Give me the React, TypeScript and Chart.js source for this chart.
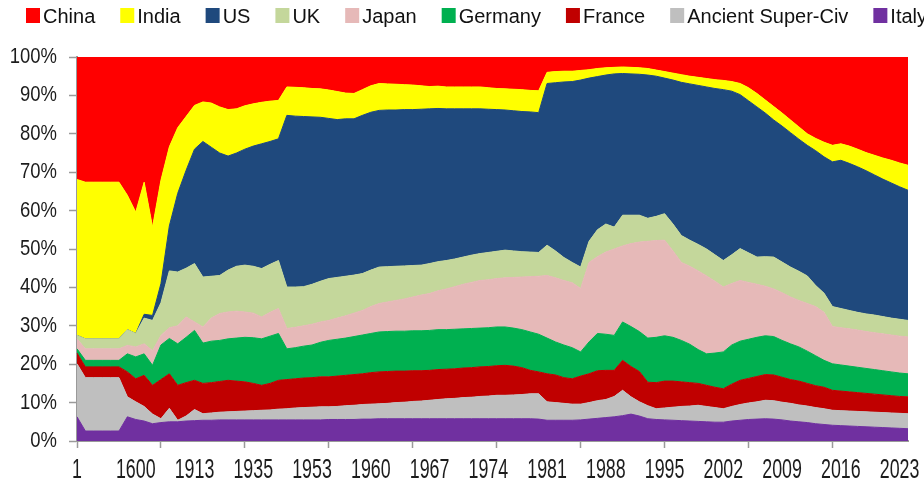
import React, { useEffect, useRef } from 'react';
import { Chart, registerables } from 'chart.js';

Chart.register(...registerables);

const years = [
  '1', '1000', '1100', '1200', '1300', '1400', '1500', '1600', '1700', '1820',
  '1850', '1870', '1890', '1900', '1913', '1920', '1925', '1929', '1930', '1932',
  '1933', '1935', '1938', '1940', '1945', '1950', '1951', '1952', '1953', '1954',
  '1955', '1956', '1957', '1958', '1959', '1960', '1961', '1962', '1963', '1964',
  '1965', '1966', '1967', '1968', '1969', '1970', '1971', '1972', '1973', '1974',
  '1975', '1976', '1977', '1978', '1979', '1980', '1981', '1982', '1983', '1984',
  '1985', '1986', '1987', '1988', '1989', '1990', '1991', '1992', '1993', '1994',
  '1995', '1996', '1997', '1998', '1999', '2000', '2001', '2002', '2003', '2004',
  '2005', '2006', '2007', '2008', '2009', '2010', '2011', '2012', '2013', '2014',
  '2015', '2016', '2017', '2018', '2019', '2020', '2021', '2022', '2023', '2024',
];

const italy = [
  6.3, 2.6, 2.6, 2.6, 2.6, 2.6, 6.3, 5.6, 5.2, 4.5,
  4.8, 5.0, 5.0, 5.2, 5.3, 5.4, 5.4, 5.5, 5.5, 5.5,
  5.5, 5.5, 5.5, 5.5, 5.5, 5.5, 5.5, 5.5, 5.5, 5.5,
  5.6, 5.6, 5.6, 5.6, 5.7, 5.7, 5.8, 5.8, 5.8, 5.8,
  5.8, 5.8, 5.8, 5.8, 5.8, 5.8, 5.8, 5.8, 5.8, 5.8,
  5.8, 5.8, 5.8, 5.8, 5.8, 5.7, 5.4, 5.4, 5.4, 5.4,
  5.5, 5.7, 5.9, 6.1, 6.3, 6.6, 7.0, 6.5, 5.8, 5.6,
  5.5, 5.4, 5.3, 5.2, 5.1, 5.0, 4.9, 4.9, 5.2, 5.4,
  5.6, 5.7, 5.8, 5.7, 5.5, 5.2, 5.0, 4.8, 4.5, 4.3,
  4.1, 4.0, 3.9, 3.8, 3.7, 3.6, 3.5, 3.4, 3.3, 3.2,
];

const ancient = [
  13.8, 13.9, 13.9, 13.9, 13.9, 13.9, 5.2, 4.6, 3.8, 2.5,
  1.0, 3.5, 0.4, 1.3, 2.9, 1.7, 1.9, 2.0, 2.1, 2.2,
  2.3, 2.4, 2.5, 2.6, 2.8, 2.9, 3.1, 3.2, 3.3, 3.4,
  3.3, 3.4, 3.6, 3.7, 3.8, 3.9, 3.9, 4.0, 4.2, 4.3,
  4.5, 4.6, 4.8, 5.0, 5.2, 5.3, 5.5, 5.6, 5.8, 5.9,
  6.1, 6.1, 6.2, 6.3, 6.5, 6.6, 4.8, 4.6, 4.4, 4.2,
  4.1, 4.3, 4.6, 4.7, 5.3, 6.6, 4.5, 3.7, 3.4, 2.8,
  3.1, 3.4, 3.7, 3.9, 4.2, 4.0, 3.8, 3.5, 3.8, 4.1,
  4.3, 4.5, 4.8, 4.8, 4.6, 4.6, 4.4, 4.3, 4.2, 4.1,
  3.9, 3.9, 3.9, 3.9, 3.9, 3.9, 3.9, 3.9, 3.9, 3.9,
];

const france = [
  2.8, 2.8, 2.8, 2.8, 2.8, 2.8, 6.5, 6.0, 8.1, 7.5,
  10.2, 9.0, 9.1, 8.7, 7.6, 7.9, 7.9, 8.0, 8.2, 7.9,
  7.6, 7.1, 6.5, 6.9, 7.5, 7.6, 7.6, 7.7, 7.7, 7.8,
  7.8, 7.9, 7.9, 8.0, 8.0, 8.2, 8.3, 8.3, 8.2, 8.1,
  8.0, 7.9, 7.8, 7.8, 7.7, 7.7, 7.7, 7.7, 7.7, 7.7,
  7.7, 7.8, 7.5, 7.0, 6.1, 5.7, 7.3, 7.2, 6.7, 6.6,
  7.3, 7.5, 7.8, 7.6, 6.8, 7.8, 7.9, 7.9, 6.1, 6.8,
  7.0, 6.8, 6.4, 6.1, 5.7, 5.5, 5.3, 5.2, 5.8, 6.3,
  6.4, 6.6, 6.7, 6.7, 6.5, 6.2, 6.2, 5.9, 5.7, 5.6,
  5.2, 5.1, 5.0, 4.9, 4.8, 4.7, 4.6, 4.5, 4.4, 4.4,
];

const germany = [
  1.1, 1.7, 1.7, 1.7, 1.7, 1.7, 4.7, 5.7, 5.6, 5.2,
  9.0, 9.2, 10.8, 11.8, 13.0, 10.5, 10.8, 10.7, 10.8, 11.2,
  11.6, 11.9, 12.1, 12.3, 12.2, 8.0, 8.1, 8.3, 8.5, 9.0,
  9.5, 9.6, 9.7, 9.9, 10.1, 10.2, 10.4, 10.4, 10.4, 10.4,
  10.4, 10.4, 10.4, 10.4, 10.3, 10.3, 10.2, 10.2, 10.1, 10.1,
  10.1, 10.0, 9.9, 9.9, 10.0, 9.8, 9.3, 8.6, 8.5, 8.1,
  6.3, 8.3, 9.7, 9.4, 9.1, 10.0, 10.4, 10.4, 11.5, 11.8,
  11.8, 11.4, 10.8, 10.0, 8.8, 8.2, 8.9, 9.6, 10.2, 10.2,
  10.2, 10.2, 10.1, 10.0, 9.6, 9.3, 8.9, 8.4, 7.8, 7.0,
  6.9, 6.8, 6.7, 6.6, 6.5, 6.4, 6.3, 6.2, 6.1, 6.0,
];

const japan = [
  2.6, 3.0, 3.0, 3.0, 3.0, 3.0, 2.2, 2.6, 2.6, 3.8,
  2.5, 2.8, 4.7, 5.3, 2.2, 4.2, 6.0, 7.0, 7.0, 7.0,
  6.6, 6.4, 5.7, 6.2, 6.5, 5.3, 5.3, 5.3, 5.4, 5.3,
  5.2, 5.5, 5.8, 6.1, 6.4, 7.0, 7.4, 7.7, 8.0, 8.4,
  8.8, 9.3, 9.6, 10.1, 10.6, 11.1, 11.6, 12.0, 12.4, 12.5,
  12.6, 12.8, 13.2, 13.7, 14.4, 15.1, 16.3, 16.7, 16.8, 16.9,
  16.5, 20.7, 20.0, 21.4, 22.5, 19.8, 21.6, 23.3, 25.2, 25.2,
  24.9, 22.5, 20.3, 20.3, 20.5, 20.3, 18.7, 16.9, 16.0, 15.8,
  14.8, 13.8, 12.9, 12.4, 12.4, 12.2, 12.1, 12.4, 12.8, 12.5,
  9.7, 9.7, 9.7, 9.7, 9.6, 9.6, 9.6, 9.6, 9.6, 9.6,
];

const uk = [
  0.9, 2.6, 2.6, 2.6, 2.6, 2.6, 4.1, 3.5, 6.7, 7.9,
  8.5, 14.8, 14.0, 12.7, 15.2, 13.0, 10.9, 9.9, 10.9, 11.7,
  12.2, 12.2, 12.6, 12.5, 12.5, 10.8, 10.5, 10.2, 10.4, 10.6,
  10.9, 10.6, 10.3, 9.9, 9.6, 9.5, 9.5, 9.2, 8.9, 8.6,
  8.2, 7.8, 7.8, 7.6, 7.4, 7.2, 7.1, 7.1, 7.0, 7.1,
  7.1, 7.2, 6.9, 6.6, 6.4, 6.2, 7.9, 7.0, 6.0, 5.3,
  5.6, 5.5, 7.0, 7.3, 5.7, 8.0, 7.4, 7.0, 6.0, 6.3,
  6.9, 7.0, 7.0, 6.8, 6.9, 7.0, 6.9, 6.9, 7.5, 8.3,
  7.7, 7.1, 7.7, 8.3, 8.0, 7.8, 7.6, 7.2, 5.5, 5.0,
  5.2, 5.0, 4.8, 4.6, 4.6, 4.6, 4.5, 4.4, 4.4, 4.3,
];

const us = [
  0, 0, 0, 0, 0, 0, 0, 0, 1.0, 1.3,
  5.0, 11.7, 20.5, 25.5, 29.8, 35.3, 33.6, 31.9, 29.7, 29.5,
  30.2, 31.3, 32.5, 32.0, 31.7, 44.7, 44.5, 44.3, 43.6, 42.7,
  41.7, 41.1, 41.0, 40.7, 41.2, 41.1, 40.8, 40.8, 40.7, 40.7,
  40.6, 40.6, 40.3, 39.9, 39.5, 39.1, 38.6, 38.1, 37.7, 37.3,
  36.9, 36.5, 36.5, 36.5, 36.5, 36.4, 42.1, 43.8, 45.7, 47.1,
  48.7, 42.5, 39.9, 38.8, 39.9, 36.9, 36.8, 36.7, 37.3, 36.5,
  35.3, 37.5, 39.9, 40.7, 41.4, 42.2, 43.3, 44.5, 42.6, 40.1,
  39.6, 39.1, 37.4, 35.7, 35.4, 35.0, 34.4, 34.0, 35.1, 35.5,
  37.7, 38.6, 38.3, 37.9, 37.3, 36.5, 35.8, 35.2, 34.5, 33.9,
];

const india = [
  40.6, 40.8, 40.8, 40.8, 40.8, 40.8, 35.0, 31.6, 34.4, 23.0,
  26.9, 20.6, 17.1, 14.0, 11.4, 10.3, 11.5, 12.0, 12.1, 11.5,
  11.3, 11.0, 10.8, 10.5, 10.0, 7.4, 7.5, 7.5, 7.4, 7.4,
  7.4, 7.3, 6.7, 6.6, 6.7, 6.9, 7.0, 6.8, 6.7, 6.5,
  6.4, 6.1, 5.8, 5.8, 5.7, 5.7, 5.7, 5.7, 5.7, 5.6,
  5.5, 5.5, 5.6, 5.7, 5.6, 5.7, 2.9, 2.9, 2.8, 2.7,
  2.5, 2.2, 2.1, 1.9, 1.7, 1.7, 1.7, 1.7, 1.7, 1.6,
  1.7, 1.8, 2.0, 2.0, 2.1, 2.2, 2.3, 2.4, 2.5, 2.9,
  3.4, 3.5, 3.4, 3.5, 3.4, 3.3, 3.2, 3.0, 3.2, 3.8,
  4.3, 4.3, 4.5, 4.6, 4.7, 5.1, 5.5, 5.9, 6.2, 6.5,
];

const china = [
  31.9, 32.6, 32.6, 32.6, 32.6, 32.6, 36.0, 40.4, 32.6, 44.3,
  32.1, 23.4, 18.4, 15.5, 12.6, 11.7, 12.0, 13.0, 13.7, 13.5,
  12.7, 12.2, 11.8, 11.5, 11.3, 7.8, 7.9, 8.0, 8.2, 8.4,
  8.6, 9.0, 9.4, 9.5, 8.5, 7.5, 6.9, 7.0, 7.1, 7.2,
  7.3, 7.5, 7.7, 7.7, 7.8, 7.8, 7.8, 7.8, 7.8, 8.0,
  8.2, 8.3, 8.4, 8.5, 8.7, 8.8, 4.0, 3.8, 3.7, 3.7,
  3.5, 3.3, 3.0, 2.8, 2.7, 2.6, 2.7, 2.8, 3.0, 3.4,
  3.8, 4.2, 4.6, 5.0, 5.3, 5.6, 5.9, 6.1, 6.4, 6.9,
  8.0, 9.5, 11.2, 12.9, 14.6, 16.4, 18.2, 20.0, 21.2, 22.2,
  23.0, 22.6, 23.2, 24.0, 24.9, 25.6, 26.3, 26.9, 27.6, 28.2,
];

const seriesNames = ['China', 'India', 'US', 'UK', 'Japan', 'Germany', 'France', 'Ancient Super-Civ', 'Italy'];
const seriesColors = ['#FF0000', '#FFFF00', '#1F497D', '#C4D79B', '#E6B9B8', '#00B050', '#C00000', '#BFBFBF', '#7030A0'];

const yTicks = [0, 10, 20, 30, 40, 50, 60, 70, 80, 90, 100];

const baseFamily = '"Liberation Sans", Arial, sans-serif';

export default function App() {
  const canvasRef = useRef<HTMLCanvasElement | null>(null);

  useEffect(() => {
    const canvas = canvasRef.current;
    if (!canvas) return;
    const seriesData = [china, india, us, uk, japan, germany, france, ancient, italy];
    const bottomUp = [8, 7, 6, 5, 4, 3, 2, 1, 0];
    const datasets = bottomUp.map((k, j) => ({
      label: seriesNames[k],
      data: seriesData[k],
      backgroundColor: seriesColors[k],
      borderColor: seriesColors[k],
      borderWidth: 1,
      pointRadius: 0,
      pointHoverRadius: 0,
      tension: 0,
      fill: j === 0 ? 'origin' : '-1',
    }));

    const legendPlugin = {
      id: 'flowLegend',
      afterDraw(chart: any) {
        const ctx = chart.ctx as CanvasRenderingContext2D;
        ctx.save();
        ctx.font = `20px ${baseFamily}`;
        ctx.textAlign = 'left';
        ctx.textBaseline = 'alphabetic';
        let x = 26;
        seriesNames.forEach((name, k) => {
          ctx.fillStyle = seriesColors[k];
          ctx.fillRect(x, 8, 14, 15);
          ctx.fillStyle = '#111111';
          ctx.fillText(name, x + 17, 22.5);
          x += 17 + ctx.measureText(name).width + 25;
        });
        ctx.restore();
      },
    };

    // Condensed axis labels (the reference uses a narrow typeface)
    const axisLabelPlugin = {
      id: 'narrowAxisLabels',
      afterDraw(chart: any) {
        const ctx = chart.ctx as CanvasRenderingContext2D;
        const xs = chart.scales.x;
        const ys = chart.scales.y;
        ctx.save();
        ctx.fillStyle = '#1c1c1c';
        ctx.font = `27px ${baseFamily}`;
        ctx.textAlign = 'center';
        ctx.textBaseline = 'alphabetic';
        years.forEach((lab, i) => {
          if (i % 7 !== 0) return;
          const px = xs.getPixelForValue(i);
          ctx.save();
          ctx.translate(px, 478);
          ctx.scale(0.66, 1);
          ctx.fillText(lab, 0, 0);
          ctx.restore();
        });
        ctx.font = `22px ${baseFamily}`;
        ctx.textAlign = 'right';
        ctx.textBaseline = 'middle';
        yTicks.forEach((v) => {
          const py = ys.getPixelForValue(v);
          ctx.save();
          ctx.translate(57, py);
          ctx.scale(0.84, 1);
          ctx.fillText(`${v}%`, 0, 0);
          ctx.restore();
        });
        ctx.restore();
      },
    };

    const chart = new Chart(canvas, {
      type: 'line',
      data: { labels: years, datasets: datasets as any },
      options: {
        animation: false,
        responsive: true,
        maintainAspectRatio: false,
        layout: { padding: { top: 57, right: 16, left: 0, bottom: 0 } },
        plugins: {
          legend: { display: false },
          tooltip: { enabled: false },
        },
        scales: {
          x: {
            type: 'category',
            offset: false,
            grid: {
              drawOnChartArea: false,
              drawTicks: true,
              tickLength: 7,
              tickWidth: 1.5,
              tickColor: (c: any) => (c.index % 10 === 0 ? '#9a9a9a' : 'rgba(0,0,0,0)'),
            },
            border: { display: true, color: '#9a9a9a', width: 2 },
            ticks: {
              display: false,
              autoSkip: false,
              maxRotation: 0,
              minRotation: 0,
            },
            afterFit: (s: any) => {
              s.height = 41;
            },
          },
          y: {
            stacked: true,
            min: 0,
            max: 100,
            afterBuildTicks: (s: any) => {
              s.ticks = yTicks.map((v) => ({ value: v }));
            },
            grid: {
              drawOnChartArea: false,
              drawTicks: true,
              tickLength: 8,
              tickWidth: 1.5,
              tickColor: '#9a9a9a',
            },
            border: { display: true, color: '#9a9a9a', width: 2 },
            ticks: {
              display: false,
            },
            afterFit: (s: any) => {
              s.width = 77;
            },
          },
        },
      },
      plugins: [legendPlugin, axisLabelPlugin],
    });

    return () => {
      chart.destroy();
    };
  }, []);

  return (
    <div style={{ position: 'absolute', left: 0, top: 0, width: 924, height: 482, background: '#ffffff' }}>
      <canvas ref={canvasRef} />
    </div>
  );
}
